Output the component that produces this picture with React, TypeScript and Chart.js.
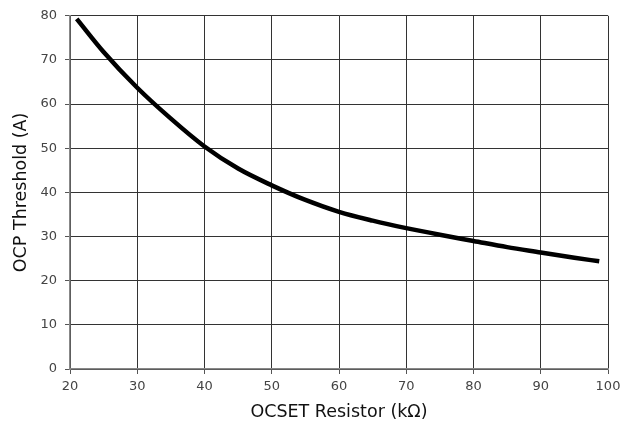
import React, { useEffect, useRef } from "react";
import { Chart, registerables } from "chart.js";

Chart.register(...registerables);

const resistanceKOhm = [21, 25, 30, 35, 40, 45, 50, 55, 60, 65, 70, 75, 80, 85, 90, 95, 98.7];
const ocpThresholdA = [79.3, 71.8, 63.7, 56.7, 50.4, 45.4, 41.6, 38.3, 35.6, 33.6, 31.9, 30.4, 29.0, 27.6, 26.4, 25.2, 24.4];
const xTitle = "OCSET Resistor (kΩ)";
const yTitle = "OCP Threshold (A)";

export default function App() {
  const ref = useRef<HTMLCanvasElement | null>(null);
  useEffect(() => {
    if (!ref.current) return;
    const data = resistanceKOhm.map((x, i) => ({ x, y: ocpThresholdA[i] }));
    const font = "'DejaVu Sans', Verdana, sans-serif";
    const chart = new Chart(ref.current, {
      type: "line",
      data: {
        datasets: [
          {
            data,
            borderColor: "#000",
            borderWidth: 4.5,
            pointRadius: 0,
            cubicInterpolationMode: "monotone",
            fill: false,
          },
        ],
      },
      options: {
        animation: false,
        responsive: false,
        maintainAspectRatio: false,
        layout: { padding: { top: 15, right: 25, left: 0, bottom: 0 } },
        plugins: { legend: { display: false }, tooltip: { enabled: false } },
        scales: {
          x: {
            type: "linear",
            min: 20,
            max: 100,
            afterFit: (s: any) => { s.height = 58; },
            ticks: { stepSize: 10, color: "#444", font: { family: font, size: 13 }, padding: 5, maxRotation: 0 },
            grid: { color: "#333", lineWidth: 1, tickLength: 5, tickColor: "#555" },
            border: { color: "#888", width: 1.5 },
            title: { display: true, text: xTitle, color: "#111", font: { family: font, size: 17.5 }, padding: { top: 0, bottom: 4 } },
          },
          y: {
            type: "linear",
            min: 0,
            max: 80,
            afterFit: (s: any) => { s.width = 70; },
            ticks: { stepSize: 10, color: "#444", font: { family: font, size: 13 }, padding: 8 },
            grid: { color: "#333", lineWidth: 1, tickLength: 5, tickColor: "#555" },
            border: { color: "#888", width: 1.5 },
            title: { display: true, text: yTitle, color: "#111", font: { family: font, size: 17.5 }, padding: { top: 11, bottom: 0 } },
          },
        },
      },
    });
    return () => chart.destroy();
  }, []);
  return (
    <div style={{ position: "fixed", left: 0, top: 0, width: 633, height: 427, background: "#fff" }}>
      <canvas ref={ref} width={633} height={427} style={{ width: 633, height: 427 }} />
    </div>
  );
}
